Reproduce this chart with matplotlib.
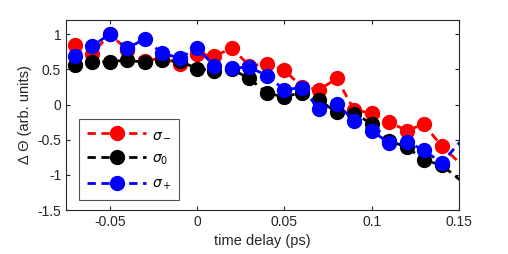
import numpy as np
import matplotlib.pyplot as plt

plt.rcParams['font.family'] = ['Liberation Sans', 'DejaVu Sans']
plt.rcParams['mathtext.fontset'] = 'dejavusans'

# time delay (ps); last point lies just past the axis limit
delay = [-0.07, -0.06, -0.05, -0.04, -0.03, -0.02, -0.01, 0.0, 0.01, 0.02, 0.03, 0.04,
         0.05, 0.06, 0.07, 0.08, 0.09, 0.10, 0.11, 0.12, 0.13, 0.14, 0.16]

sigma_minus = [0.85, 0.72, 1.00, 0.78, 0.62, 0.66, 0.58, 0.72, 0.69, 0.80, 0.55, 0.58,
               0.49, 0.25, 0.21, 0.37, -0.08, -0.12, -0.25, -0.37, -0.28, -0.59, -1.05]
sigma_zero = [0.56, 0.60, 0.61, 0.63, 0.60, 0.63, 0.62, 0.51, 0.48, 0.50, 0.37, 0.16,
              0.11, 0.17, 0.06, -0.11, -0.13, -0.27, -0.52, -0.60, -0.79, -0.86, -1.26]
sigma_plus = [0.69, 0.83, 1.00, 0.80, 0.93, 0.73, 0.66, 0.80, 0.55, 0.52, 0.53, 0.41,
              0.21, 0.24, -0.07, 0.01, -0.23, -0.37, -0.55, -0.53, -0.65, -0.83, -0.27]

series = [(sigma_minus, 'r', r'$\sigma_-$'),
          (sigma_zero, 'k', r'$\sigma_0$'),
          (sigma_plus, 'b', r'$\sigma_+$')]

fig = plt.figure(figsize=(5.08, 2.54), dpi=100)
ax = fig.add_axes([0.130, 0.173, 0.7735, 0.748])

for vals, c, lab in series:
    ax.plot(delay, vals, color=c, linestyle=(0, (3, 2)), linewidth=2,
            marker='o', markersize=10, markerfacecolor=c, markeredgecolor=c, label=lab)

ax.set_xlim(-0.075, 0.15)
ax.set_ylim(-1.5, 1.2)
ax.set_xticks([-0.05, 0, 0.05, 0.1, 0.15])
ax.set_xticklabels(['-0.05', '0', '0.05', '0.1', '0.15'])
ax.set_yticks([-1.5, -1, -0.5, 0, 0.5, 1])
ax.set_yticklabels(['-1.5', '-1', '-0.5', '0', '0.5', '1'])
ax.tick_params(direction='in', top=True, right=True, labelsize=10, colors='#262626', length=3)
for s in ax.spines.values():
    s.set_color('#262626')
    s.set_linewidth(0.8)

ax.set_xlabel('time delay (ps)', fontsize=10.5, color='#262626')
ax.set_ylabel('Δ Θ (arb. units)', fontsize=10.5, color='#262626')

leg = ax.legend(loc='upper left', bbox_to_anchor=(0.033, 0.479), borderaxespad=0,
                handlelength=4.3, fontsize=10, frameon=True, fancybox=False,
                edgecolor='#262626', labelspacing=0.75, borderpad=0.55, handletextpad=0.4)
leg.get_frame().set_linewidth(0.8)

fig.savefig('out.png', dpi=100)
